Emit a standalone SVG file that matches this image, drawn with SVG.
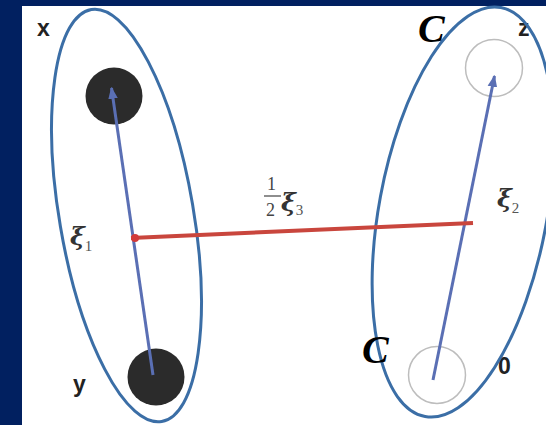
<svg xmlns="http://www.w3.org/2000/svg" width="546" height="425" viewBox="0 0 546 425">
<style>
.ell{fill:none;stroke:#3b6ea6;stroke-width:3}
.full{fill:#2b2b2b}
.empty{fill:#fff;stroke:#bdbdbd;stroke-width:1.5}
.lbl{font-family:"Liberation Sans",Arial,sans-serif;font-weight:bold;font-size:23px;fill:#222}
.cal{font-family:"Liberation Serif","Times New Roman",serif;font-style:italic;font-weight:bold;font-size:40px;fill:#000}
.xi{font-family:"DejaVu Serif","Liberation Serif",serif;font-style:italic;font-weight:bold;font-size:25px;fill:#333}
.sub{font-family:"Liberation Serif","Times New Roman",serif;font-style:normal;font-weight:normal;font-size:15px;fill:#555}
.frac{font-family:"Liberation Serif","Times New Roman",serif;font-size:18px;fill:#444}
.arr{stroke:#5a6fb4;stroke-width:3;fill:none}
</style>
<defs>
<marker id="ah" viewBox="0 0 10 10" refX="9" refY="5" markerWidth="4" markerHeight="4" orient="auto" markerUnits="strokeWidth">
<path d="M0,1 L10,5 L0,9 z" fill="#5a6fb4"/>
</marker>
</defs>
<rect width="546" height="425" fill="#012060"/>
<rect x="22" y="6" width="524" height="419" fill="#fff"/>
<g id="node-x">
<circle class="full" cx="114" cy="96" r="28.5"/>
<text class="lbl" x="37" y="36">x</text>
</g>
<g id="node-y">
<circle class="full" cx="156" cy="377" r="28.5"/>
<text class="lbl" x="73" y="392">y</text>
</g>
<g id="node-z">
<circle class="empty" cx="494" cy="68" r="28.5"/>
<text class="lbl" x="518" y="36">z</text>
</g>
<g id="node-0">
<circle class="empty" cx="437" cy="375" r="28.5"/>
<text class="lbl" x="498" y="374">0</text>
</g>
<g id="clusters">
<ellipse class="ell" cx="126.5" cy="215.5" rx="67" ry="209" transform="rotate(-9.7 126.5 215.5)"/>
<ellipse class="ell" cx="463" cy="212" rx="84" ry="208" transform="rotate(10.5 463 212)"/>
<text class="cal" x="418" y="42">C</text>
<text class="cal" x="362" y="363">C</text>
</g>
<g id="connectors">
<line class="arr" x1="153" y1="375" x2="111.5" y2="88" marker-end="url(#ah)"/>
<line class="arr" x1="433" y1="380" x2="494.5" y2="76" marker-end="url(#ah)"/>
<line x1="131" y1="238" x2="473" y2="223" stroke="#c9463d" stroke-width="4"/>
<circle cx="135" cy="238" r="4" fill="#d23a3a"/>
</g>
<g id="labels">
<text class="xi" x="70" y="245">ξ<tspan class="sub" dy="6">1</tspan></text>
<text class="xi" x="497" y="207">ξ<tspan class="sub" dy="6">2</tspan></text>
<text class="frac" x="267" y="190">1</text>
<line x1="264" y1="196" x2="281" y2="196" stroke="#444" stroke-width="1.2"/>
<text class="frac" x="266" y="216">2</text>
<text class="xi" x="281" y="211">ξ<tspan class="sub" dy="4">3</tspan></text>
</g>
</svg>
